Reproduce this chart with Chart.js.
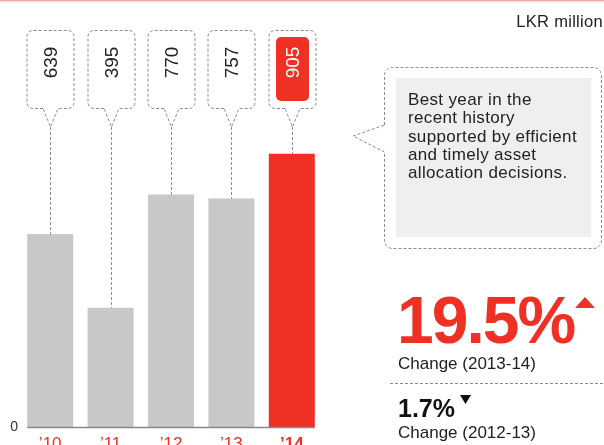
<!DOCTYPE html>
<html>
<head>
<meta charset="utf-8">
<script src="https://cdn.jsdelivr.net/npm/chart.js@4/dist/chart.umd.min.js"></script>
<style>
  body { margin: 0; background: #fff; }
  #wrap { position: relative; width: 604px; height: 445px; overflow: hidden; font-family: "Liberation Sans", Arial, sans-serif; color: #222; }
  #wrap canvas { position: absolute; left: 0; top: 0; }
  .txt { position: absolute; white-space: nowrap; line-height: 1; }
  #unit { right: 1px; top: 13px; font-size: 16.5px; letter-spacing: 0.3px; }
  #note { left: 408px; top: 91px; font-size: 17px; line-height: 18.3px; letter-spacing: 0.35px; color: #222; }
  #bigChange { left: 397px; top: 287px; font-size: 66px; font-weight: bold; color: #ee3124; letter-spacing: -2px; }
  #bigLabel { left: 398px; top: 355px; font-size: 17px; }
  #smallChange { left: 398px; top: 396px; font-size: 25px; font-weight: bold; color: #111; }
  #smallLabel { left: 398px; top: 424px; font-size: 17px; }
</style>
</head>
<body>
<div id="wrap">
  <canvas id="profitChart"></canvas>
  <div class="txt" id="unit">LKR million</div>
  <div class="txt" id="note"></div>
  <div class="txt" id="bigChange"></div>
  <div class="txt" id="bigLabel"></div>
  <div class="txt" id="smallChange"></div>
  <div class="txt" id="smallLabel"></div>
</div>
<script>
const years = ['\u201910', '\u201911', '\u201912', '\u201913', '\u201914'];
const profit = [639, 395, 770, 757, 905];
const yTicks = [0];
const changes = ['19.5%', '1.7%'];
const changePeriods = ['Change (2013-14)', 'Change (2012-13)'];
const noteLines = ['Best year in the', 'recent history', 'supported by efficient', 'and timely asset', 'allocation decisions.'];

const RED = '#ee3124';
const GREY = '#c7c8ca';
const DASH = '#8c8c8c';
const last = profit.length - 1;

document.getElementById('note').innerHTML = noteLines.join('<br>');
document.getElementById('bigChange').textContent = changes[0];
document.getElementById('bigLabel').textContent = changePeriods[0];
document.getElementById('smallChange').textContent = changes[1];
document.getElementById('smallLabel').textContent = changePeriods[1];

function roundRect(ctx, x, y, w, h, r) {
    ctx.beginPath();
    ctx.moveTo(x + r, y);
    ctx.arcTo(x + w, y, x + w, y + h, r);
    ctx.arcTo(x + w, y + h, x, y + h, r);
    ctx.arcTo(x, y + h, x, y, r);
    ctx.arcTo(x, y, x + w, y, r);
    ctx.closePath();
}

// dashed speech bubbles above each bar plus the side panel shapes
const decorations = {
    id: 'decorations',
    afterDatasetsDraw(chart) {
        const ctx = chart.ctx;
        const meta = chart.getDatasetMeta(0);
        ctx.save();

        // thin rule along the top edge
        ctx.fillStyle = '#f6a9a3';
        ctx.fillRect(0, 0, chart.width, 1.5);

        ctx.strokeStyle = DASH;
        ctx.lineWidth = 1;
        ctx.setLineDash([3, 2]);

        meta.data.forEach((bar, i) => {
            const x = Math.round(bar.x) + 0.5;
            const l = x - 23.5, r = x + 23.5, t = 30.5, b = 108.5, rad = 6;
            const tipY = 127;
            ctx.beginPath();
            ctx.moveTo(x - 7.5, b);
            ctx.arcTo(l, b, l, t, rad);
            ctx.arcTo(l, t, r, t, rad);
            ctx.arcTo(r, t, r, b, rad);
            ctx.arcTo(r, b, l, b, rad);
            ctx.lineTo(x + 7.5, b);
            ctx.lineTo(x, tipY);
            ctx.closePath();
            ctx.stroke();

            ctx.beginPath();
            ctx.moveTo(x, tipY);
            ctx.lineTo(x, bar.y);
            ctx.stroke();

            if (i === last) {
                ctx.fillStyle = RED;
                roundRect(ctx, x - 16.5, 37, 33, 64, 5);
                ctx.fill();
            }

            ctx.save();
            ctx.translate(x, 62.5);
            ctx.rotate(-Math.PI / 2);
            ctx.fillStyle = i === last ? '#fff' : '#222';
            ctx.font = '19px "Liberation Sans", Arial, sans-serif';
            ctx.textAlign = 'center';
            ctx.textBaseline = 'middle';
            ctx.fillText(String(profit[i]), 0, 1);
            ctx.restore();
        });

        // side panel bubble
        const pl = 384.5, pr = 601.5, pt = 67.5, pb = 248.5, pr8 = 8;
        ctx.beginPath();
        ctx.moveTo(pl, 125);
        ctx.arcTo(pl, pt, pr, pt, pr8);
        ctx.arcTo(pr, pt, pr, pb, pr8);
        ctx.arcTo(pr, pb, pl, pb, pr8);
        ctx.arcTo(pl, pb, pl, pt, pr8);
        ctx.lineTo(pl, 152);
        ctx.lineTo(353, 136);
        ctx.closePath();
        ctx.stroke();
        ctx.fillStyle = '#efefef';
        ctx.fillRect(396, 78, 195, 159);

        // separator between the two change figures
        ctx.beginPath();
        ctx.moveTo(390, 383.5);
        ctx.lineTo(chart.width, 383.5);
        ctx.stroke();
        ctx.setLineDash([]);

        // baseline under the bars
        const first = meta.data[0], end = meta.data[last];
        const y0 = Math.round(chart.scales.y.getPixelForValue(0)) + 0.5;
        ctx.strokeStyle = '#888';
        ctx.lineWidth = 1.5;
        ctx.beginPath();
        ctx.moveTo(first.x - first.width / 2, y0);
        ctx.lineTo(end.x + end.width / 2, y0);
        ctx.stroke();

        // up / down markers
        ctx.fillStyle = RED;
        ctx.beginPath();
        ctx.moveTo(575, 308); ctx.lineTo(585, 297); ctx.lineTo(595, 308);
        ctx.closePath(); ctx.fill();
        ctx.fillStyle = '#111';
        ctx.beginPath();
        ctx.moveTo(460, 395); ctx.lineTo(471, 395); ctx.lineTo(465.5, 404);
        ctx.closePath(); ctx.fill();

        ctx.restore();
    }
};

new Chart(document.getElementById('profitChart'), {
    type: 'bar',
    data: {
        labels: years,
        datasets: [{
            data: profit,
            backgroundColor: profit.map((v, i) => i === last ? RED : GREY),
            barPercentage: 0.762,
            categoryPercentage: 1
        }]
    },
    options: {
        responsive: true,
        maintainAspectRatio: false,
        animation: false,
        layout: { padding: { top: 5, right: 282, left: 0, bottom: 0 } },
        plugins: { legend: { display: false }, tooltip: { enabled: false } },
        scales: {
            x: {
                grid: { display: false, drawTicks: false },
                border: { display: false },
                ticks: {
                    color: RED,
                    padding: 7,
                    font: ctx => ({ family: '"Liberation Sans", Arial, sans-serif', size: 17, weight: ctx.index === last ? 'bold' : 'normal' })
                },
                afterFit: scale => { scale.height = 18; }
            },
            y: {
                min: 0,
                max: 1380,
                grid: { display: false, drawTicks: false },
                border: { display: false },
                afterBuildTicks: scale => { scale.ticks = yTicks.map(v => ({ value: v })); },
                ticks: {
                    color: '#333',
                    padding: 2,
                    font: { family: '"Liberation Sans", Arial, sans-serif', size: 14 }
                },
                afterFit: scale => { scale.width = 20; }
            }
        }
    },
    plugins: [decorations]
});
</script>
</body>
</html>
